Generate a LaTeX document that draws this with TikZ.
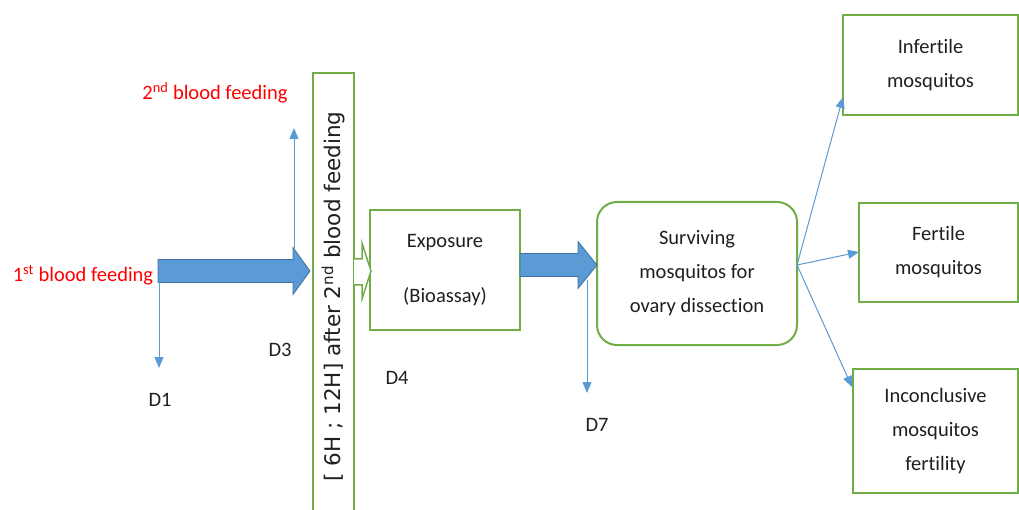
\documentclass[tikz,border=0pt]{standalone}
\usepackage{fontspec}
\setmainfont{Carlito}[Ligatures=NoCommon]
\newfontfamily\vertfont{DejaVu Sans}
\usetikzlibrary{arrows.meta}
\definecolor{boxgreen}{HTML}{70AD47}
\definecolor{arrowblue}{HTML}{5B9BD5}
\definecolor{arrowedge}{HTML}{41719C}
\definecolor{txtgray}{HTML}{1F1F1F}
\tikzset{
  stepbox/.style={draw=boxgreen, line width=2pt, align=center, inner sep=0pt, text=txtgray},
  thinarrow/.style={draw=arrowblue, line width=1pt, -{Triangle[length=11pt,width=9pt]}, arrowblue},
  bigarrow/.style={fill=arrowblue, draw=arrowedge, line width=0.8pt},
  redlabel/.style={text=red, inner sep=0pt},
  daylabel/.style={text=txtgray, inner sep=0pt}
}

\begin{document}
\begin{tikzpicture}[x=1pt, y=-1pt, font=\fontsize{20.5}{34}\selectfont]
  \useasboundingbox (0,0) rectangle (1019,510);
  \def\shaftHalf{11.5}   % half thickness of the big arrows
  \def\headHalf{23.5}    % half width of their heads
  % feeding labels
  \node[redlabel] (first) at (83,275) {1\textsuperscript{st} blood feeding};
  \node[redlabel] (second) at (215,93) {2\textsuperscript{nd} blood feeding};
  % holding column
  \node[stepbox, rotate=90, minimum width=447pt, minimum height=41pt,
        font=\vertfont\fontsize{21.5}{24}\selectfont] (hold) at (333.5,296.5)
        {[ 6H ; 12H] after 2\textsuperscript{nd} blood feeding};
  % steps
  \node[stepbox, minimum width=150pt, minimum height=120pt] (expo) at (445,270) {Exposure\\[21pt](Bioassay)};
  \node[stepbox, rounded corners=20pt, minimum width=200pt, minimum height=143pt] (surv) at (697,273.5)
        {Surviving\\mosquitos for\\ovary dissection};
  \node[stepbox, minimum width=175pt, minimum height=100pt] (infert) at (930.5,65) {Infertile\\mosquitos};
  \node[stepbox, minimum width=159pt, minimum height=99pt] (fert) at (938.5,252.5) {Fertile\\mosquitos};
  \node[stepbox, minimum width=165pt, minimum height=124pt] (incon) at (935.5,431)
        {Inconclusive\\mosquitos\\fertility};
  % big arrows
  \foreach \xs/\xh/\xt/\yc in {158/293/310/271, 520/578/597/265}
      {
      \draw[bigarrow] ({\xs},{\yc-\shaftHalf}) -- ({\xh},{\yc-\shaftHalf}) -- ({\xh},{\yc-\headHalf}) -- ({\xt},{\yc})
          -- ({\xh},{\yc+\headHalf}) -- ({\xh},{\yc+\shaftHalf}) -- ({\xs},{\yc+\shaftHalf}) -- cycle;
      }
  % hollow arrow into the exposure box
  \draw[draw=boxgreen, line width=1.5pt, fill=white] (354,259) -- (362,259) -- (362,243) -- (371,271)
      -- (362,299) -- (362,285) -- (354,285);
  % day markers
  \coordinate (feedstart) at (159,282);
  \coordinate (d1tip) at (159,368);
  \coordinate (secondstart) at (294,250);
  \coordinate (secondtip) at (294,128);
  \coordinate (survstart) at (587,280);
  \coordinate (d7tip) at (587,393);
  \draw[thinarrow] (feedstart) -- (d1tip);
  \draw[thinarrow] (secondstart) -- (secondtip);
  \draw[thinarrow] (survstart) -- (d7tip);
  \foreach \name/\x/\y in {D1/160/400, D3/280/350, D4/397/378, D7/597/425}
      \node[daylabel] (\name) at (\x,\y) {\name};
  % outcomes
  \coordinate (fan) at (797,265);
  \foreach \x/\y in {843/97, 859/252, 852/387}
      \draw[thinarrow] (fan) -- (\x,\y);
\end{tikzpicture}
\end{document}
